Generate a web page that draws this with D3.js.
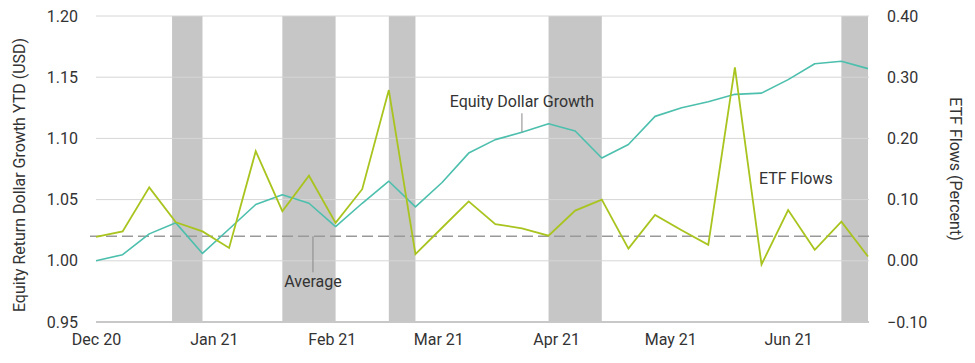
<!DOCTYPE html>
<html>
<head>
<meta charset="utf-8">
<script src="https://cdn.jsdelivr.net/npm/d3@7"></script>
<style>
  body { margin: 0; background: #fff; }
  svg text { font-family: Roboto, "Noto Sans", sans-serif; fill: #333; }
</style>
</head>
<body>
<div id="chart"></div>
<script>
// weekly observations
const dates = [
  '2020-12-01', '2020-12-08', '2020-12-15', '2020-12-22', '2020-12-29',
  '2021-01-05', '2021-01-12', '2021-01-19', '2021-01-26', '2021-02-02',
  '2021-02-09', '2021-02-16', '2021-02-23', '2021-03-02', '2021-03-09',
  '2021-03-16', '2021-03-23', '2021-03-30', '2021-04-06', '2021-04-13',
  '2021-04-20', '2021-04-27', '2021-05-04', '2021-05-11', '2021-05-18',
  '2021-05-25', '2021-06-01', '2021-06-08', '2021-06-15', '2021-06-22'
];
const equityGrowth = [
  1.000, 1.005, 1.022, 1.031, 1.006, 1.026, 1.046, 1.054, 1.047, 1.028,
  1.047, 1.065, 1.044, 1.064, 1.088, 1.099, 1.105, 1.112, 1.106, 1.084,
  1.095, 1.118, 1.125, 1.130, 1.136, 1.137, 1.148, 1.161, 1.163, 1.157
];
const etfFlows = [
  0.039, 0.048, 0.120, 0.063, 0.048, 0.021, 0.179, 0.081, 0.139, 0.062,
  0.117, 0.279, 0.011, 0.054, 0.097, 0.060, 0.053, 0.041, 0.082, 0.100,
  0.020, 0.075, 0.050, 0.026, 0.316, -0.006, 0.083, 0.018, 0.064, 0.007
];
const etfAverage = 0.04;
// shaded periods
const bands = [
  ['2020-12-21', '2020-12-29'],
  ['2021-01-19', '2021-02-02'],
  ['2021-02-16', '2021-02-23'],
  ['2021-03-30', '2021-04-13'],
  ['2021-06-15', '2021-06-22']
];
const leftTicks = [0.95, 1.00, 1.05, 1.10, 1.15, 1.20];
const rightTicks = [-0.10, 0.00, 0.10, 0.20, 0.30, 0.40];
const monthTicks = ['2020-12-01', '2021-01-01', '2021-02-01', '2021-03-01', '2021-04-01', '2021-05-01', '2021-06-01'];

const width = 975, height = 363;
const margin = { top: 16, right: 107, bottom: 41, left: 96 };
const parse = d3.timeParse('%Y-%m-%d');
const X = dates.map(parse);

const x = d3.scaleTime()
  .domain(d3.extent(X))
  .range([margin.left, width - margin.right]);
const yL = d3.scaleLinear().domain([0.95, 1.20]).range([height - margin.bottom, margin.top]);
const yR = d3.scaleLinear().domain([-0.10, 0.40]).range([height - margin.bottom, margin.top]);

const svg = d3.select('#chart').append('svg')
  .attr('width', width)
  .attr('height', height)
  .attr('viewBox', [0, 0, width, height]);

// bands
svg.append('g')
  .selectAll('rect')
  .data(bands)
  .join('rect')
  .attr('x', (d) => x(parse(d[0])))
  .attr('width', (d) => x(parse(d[1])) - x(parse(d[0])))
  .attr('y', margin.top)
  .attr('height', height - margin.bottom - margin.top)
  .attr('fill', '#c6c6c6');

// gridlines
svg.append('g')
  .selectAll('line')
  .data(leftTicks)
  .join('line')
  .attr('x1', margin.left)
  .attr('x2', width - margin.right + 1)
  .attr('y1', (d) => yL(d))
  .attr('y2', (d) => yL(d))
  .attr('stroke', (d, i) => (i === 0 ? '#c8c8c8' : '#d6d6d6'))
  .attr('stroke-width', (d, i) => (i === 0 ? 2 : 1));

// left axis
const leftAxis = svg.append('g')
  .attr('transform', `translate(${margin.left - 18},0)`)
  .call(d3.axisLeft(yL).tickValues(leftTicks).tickFormat(d3.format('.2f')).tickSize(0).tickPadding(0));
leftAxis.select('.domain').remove();
leftAxis.selectAll('text').attr('font-size', 16).attr('font-family', null);

// right axis
const rightAxis = svg.append('g')
  .attr('transform', `translate(${width - margin.right + 19},0)`)
  .call(d3.axisRight(yR).tickValues(rightTicks).tickFormat(d3.format('.2f')).tickSize(0).tickPadding(0));
rightAxis.select('.domain').remove();
rightAxis.selectAll('text').attr('font-size', 16).attr('font-family', null);

// bottom axis
const bottomAxis = svg.append('g')
  .attr('transform', `translate(0,${height - margin.bottom + 12})`)
  .call(d3.axisBottom(x).tickValues(monthTicks.map(parse)).tickFormat(d3.timeFormat('%b %y')).tickSize(0).tickPadding(0));
bottomAxis.select('.domain').remove();
bottomAxis.selectAll('text').attr('font-size', 16).attr('font-family', null).attr('dy', '0.71em');

// axis titles
svg.append('text')
  .attr('transform', `translate(25,${(margin.top + height - margin.bottom) / 2 + 6}) rotate(-90)`)
  .attr('text-anchor', 'middle')
  .attr('font-size', 16)
  .text('Equity Return Dollar Growth YTD (USD)');
svg.append('text')
  .attr('transform', `translate(950,${(margin.top + height - margin.bottom) / 2}) rotate(90)`)
  .attr('text-anchor', 'middle')
  .attr('font-size', 16)
  .text('ETF Flows (Percent)');

// average line
svg.append('line')
  .attr('x1', margin.left - 6)
  .attr('x2', width - margin.right + 4)
  .attr('y1', yR(etfAverage))
  .attr('y2', yR(etfAverage))
  .attr('stroke', '#999')
  .attr('stroke-width', 1.6)
  .attr('stroke-dasharray', '11,5');

// series
svg.append('path')
  .datum(equityGrowth)
  .attr('fill', 'none')
  .attr('stroke', '#4cbfad')
  .attr('stroke-width', 1.6)
  .attr('stroke-linejoin', 'round')
  .attr('d', d3.line().x((d, i) => x(X[i])).y((d) => yL(d)));

svg.append('path')
  .datum(etfFlows)
  .attr('fill', 'none')
  .attr('stroke', '#a8c41e')
  .attr('stroke-width', 1.8)
  .attr('stroke-linejoin', 'miter')
  .attr('d', d3.line().x((d, i) => x(X[i])).y((d) => yR(d)));

// annotations
const avgX = x(parse('2021-01-26')) + 4;
svg.append('line')
  .attr('x1', avgX).attr('x2', avgX)
  .attr('y1', yR(etfAverage)).attr('y2', yR(etfAverage) + 36)
  .attr('stroke', '#888');
svg.append('text')
  .attr('x', avgX).attr('y', yR(etfAverage) + 51)
  .attr('text-anchor', 'middle')
  .attr('font-size', 16)
  .text('Average');

const eqX = x(parse('2021-03-23'));
svg.append('line')
  .attr('x1', eqX).attr('x2', eqX)
  .attr('y1', yL(equityGrowth[16]) - 19).attr('y2', yL(equityGrowth[16]))
  .attr('stroke', '#888');
svg.append('text')
  .attr('x', eqX).attr('y', yL(equityGrowth[16]) - 25)
  .attr('text-anchor', 'middle')
  .attr('font-size', 16)
  .text('Equity Dollar Growth');

svg.append('text')
  .attr('x', 759)
  .attr('y', yR(0.125))
  .attr('font-size', 16)
  .text('ETF Flows');
</script>
</body>
</html>
